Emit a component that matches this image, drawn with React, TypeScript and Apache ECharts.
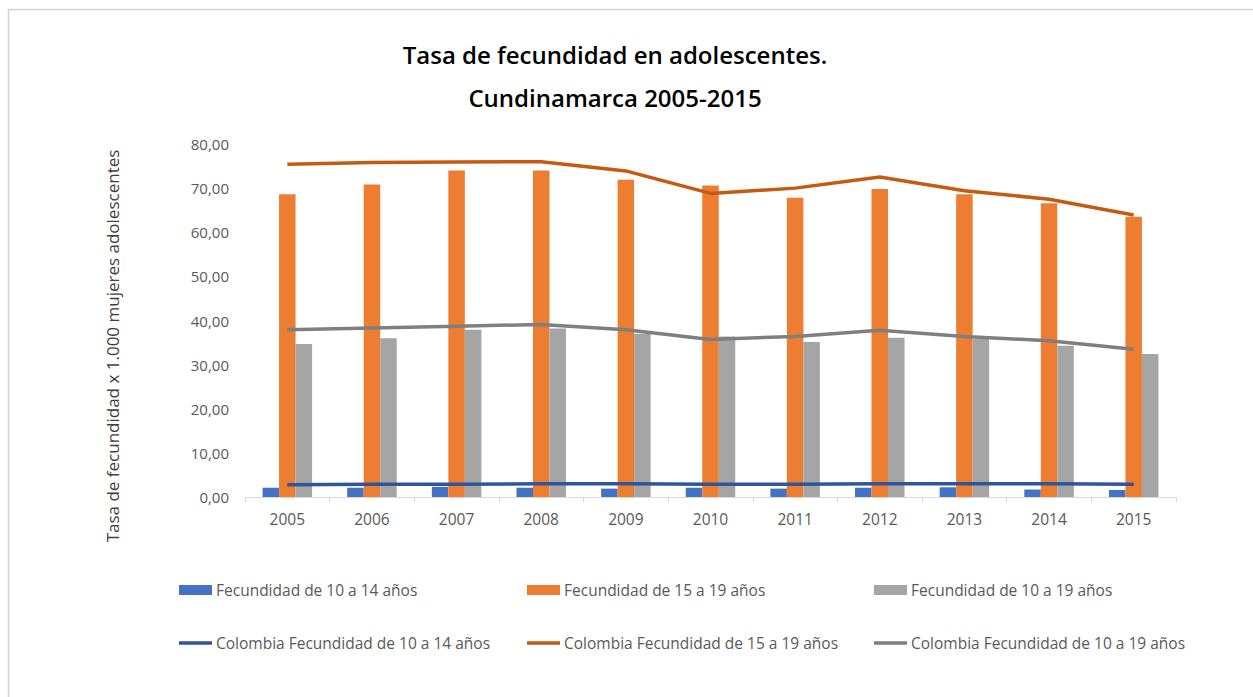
import React, { useEffect, useRef } from "react";
import * as echarts from "echarts";

const years = ["2005", "2006", "2007", "2008", "2009", "2010", "2011", "2012", "2013", "2014", "2015"];
const fec1014 = [2.1, 2.1, 2.3, 2.1, 1.9, 2.1, 1.9, 2.1, 2.2, 1.7, 1.6];
const fec1519 = [68.6, 70.8, 74.0, 74.0, 71.9, 70.6, 67.8, 69.8, 68.6, 66.6, 63.5];
const fec1019 = [34.7, 36.0, 37.9, 38.2, 37.0, 36.4, 35.1, 36.1, 35.8, 34.3, 32.4];
const col1014 = [2.8, 2.9, 2.9, 3.0, 3.0, 2.9, 2.9, 3.0, 3.0, 3.0, 2.9];
const col1519 = [75.4, 75.8, 75.9, 76.0, 73.9, 68.8, 70.0, 72.5, 69.4, 67.5, 63.9];
const col1019 = [37.9, 38.3, 38.7, 39.1, 37.9, 35.7, 36.4, 37.8, 36.4, 35.4, 33.5];

const names = [
  "Fecundidad de 10 a 14 años",
  "Fecundidad de 15 a 19 años",
  "Fecundidad de 10 a 19 años",
  "Colombia Fecundidad de 10 a 14 años",
  "Colombia Fecundidad de 15 a 19 años",
  "Colombia Fecundidad de 10 a 19 años",
];
const colors = ["#4472C4", "#ED7D31", "#A5A5A5", "#2F5597", "#C55A11", "#7F7F7F"];
const titleLines = ["Tasa de fecundidad en adolescentes.", "Cundinamarca 2005-2015"];
const yAxisName = "Tasa de fecundidad x 1.000 mujeres adolescentes";

const FONT = "'Open Sans', 'Noto Sans', sans-serif";

export default function App() {
  const ref = useRef<HTMLDivElement>(null);
  useEffect(() => {
    if (!ref.current) return;
    const chart = echarts.init(ref.current, undefined, { renderer: "svg" });
    const legendLefts = [179, 527, 874];
    const legendTops = [582, 635];
    const legends = names.map((n, i) => ({
      data: [n],
      left: legendLefts[i % 3],
      top: legendTops[Math.floor(i / 3)],
      padding: 0,
      icon: "rect",
      itemWidth: 33,
      itemHeight: i < 3 ? 10 : 3.5,
      itemGap: 0,
      textStyle: { fontFamily: FONT, fontSize: 15.5, color: "#595959", padding: [0, 0, 0, -1] },
      selectedMode: false,
    }));
    const barData = [fec1014, fec1519, fec1019];
    const lineData = [col1014, col1519, col1019];
    const series: any[] = [];
    barData.forEach((d, i) => {
      series.push({
        name: names[i],
        type: "bar",
        data: d,
        barWidth: 16.5,
        barGap: "0%",
        itemStyle: { color: colors[i] },
        z: 2,
      });
    });
    lineData.forEach((d, i) => {
      series.push({
        name: names[i + 3],
        type: "line",
        data: d,
        symbol: "none",
        lineStyle: { color: colors[i + 3], width: 3.5 },
        itemStyle: { color: colors[i + 3] },
        z: 3,
      });
    });
    chart.setOption({
      animation: false,
      color: colors,
      grid: { left: 245, right: 77, top: 144, bottom: 200 },
      legend: legends,
      xAxis: {
        type: "category",
        data: years,
        boundaryGap: true,
        axisLine: { lineStyle: { color: "#d9d9d9", width: 1 } },
        axisTick: { show: true, length: 5, lineStyle: { color: "#d9d9d9" } },
        axisLabel: { fontFamily: FONT, fontSize: 15.5, color: "#595959", margin: 14 },
        splitLine: { show: false },
      },
      yAxis: {
        type: "value",
        min: 0,
        max: 80,
        interval: 10,
        axisLine: { show: false },
        axisTick: { show: false },
        splitLine: { show: false },
        axisLabel: {
          fontFamily: FONT,
          fontSize: 15,
          color: "#595959",
          margin: 16,
          formatter: (v: number) => v.toFixed(2).replace(".", ","),
        },
      },
      graphic: [
        {
          type: "rect",
          shape: { x: 8.5, y: 9.5, width: 1400, height: 900 },
          style: { fill: "none", stroke: "#d4d4d4", lineWidth: 1.5 },
          silent: true,
        },
        {
          type: "text",
          x: 615,
          y: 54,
          style: {
            text: titleLines[0],
            fontFamily: FONT,
            fontSize: 24,
            fontWeight: 600,
            fill: "#000",
            textAlign: "center",
            textVerticalAlign: "middle",
          },
        },
        {
          type: "text",
          x: 615,
          y: 97,
          style: {
            text: titleLines[1],
            fontFamily: FONT,
            fontSize: 24,
            fontWeight: 600,
            fill: "#000",
            textAlign: "center",
            textVerticalAlign: "middle",
          },
        },
        {
          type: "text",
          x: 112,
          y: 346,
          rotation: Math.PI / 2,
          style: {
            text: yAxisName,
            fontFamily: FONT,
            fontSize: 17,
            fill: "#404040",
            textAlign: "center",
            textVerticalAlign: "middle",
          },
        },
      ],
      series,
    });
    return () => chart.dispose();
  }, []);
  return (
    <div
      ref={ref}
      style={{ position: "fixed", left: 0, top: 0, width: 1253, height: 697, background: "#fff" }}
    />
  );
}
